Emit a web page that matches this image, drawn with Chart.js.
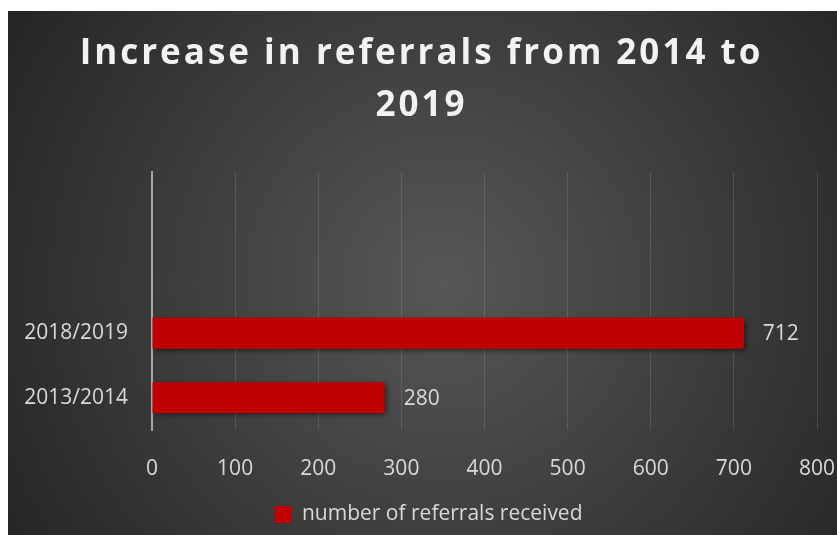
<!DOCTYPE html>
<html><head><meta charset="utf-8">
<script src="https://cdn.jsdelivr.net/npm/chart.js@4.4.0/dist/chart.umd.min.js"></script>
<style>html,body{margin:0;padding:0;background:#fff;overflow:hidden}canvas{display:block}</style>
</head><body>
<canvas id="c" width="837" height="535"></canvas>
<script>
const categories = ['', '', '2018/2019', '2013/2014'];
const referrals = [null, null, 712, 280];
const seriesName = 'number of referrals received';
const titleLines = ['Increase in referrals from 2014 to', '2019'];
const xTickValues = [0, 100, 200, 300, 400, 500, 600, 700, 800];

const FONT = 'Open Sans';
const TXT = '#d9d9d9';

function shiftBox(box, dx, spacing) {
  if (!box || box._shifted) return;
  const orig = box.draw;
  box.draw = function (...a) {
    const c = this.ctx;
    c.save();
    c.translate(dx, 0);
    if (spacing) c.letterSpacing = spacing;
    orig.apply(this, a);
    c.restore();
  };
  box._shifted = true;
}

const bgPlugin = {
  id: 'bg',
  beforeDraw(chart) {
    const ctx = chart.ctx;
    ctx.save();
    ctx.fillStyle = '#ffffff';
    ctx.fillRect(0, 0, chart.width, chart.height);
    const x0 = 8, y0 = 11, x1 = chart.width, y1 = chart.height;
    const cx = (x0 + x1) / 2 + 20, cy = (y0 + y1) / 2 + 10;
    const g = ctx.createRadialGradient(cx, cy, 0, cx, cy, 520);
    g.addColorStop(0, '#575757');
    g.addColorStop(1, '#242424');
    ctx.fillStyle = g;
    ctx.fillRect(x0, y0, x1 - x0, y1 - y0);
    ctx.restore();
    shiftBox(chart.titleBlock, 13, '3px');
    shiftBox(chart.legend, 20, null);
  }
};

const barFx = {
  id: 'barFx',
  beforeDatasetsDraw(chart) {
    const ctx = chart.ctx;
    ctx.save();
    ctx.shadowColor = 'rgba(0,0,0,0.55)';
    ctx.shadowBlur = 5;
    ctx.shadowOffsetX = 2;
    ctx.shadowOffsetY = 2;
  },
  afterDatasetsDraw(chart) {
    const ctx = chart.ctx;
    ctx.restore();
    ctx.save();
    ctx.fillStyle = TXT;
    ctx.font = '21px "' + FONT + '"';
    ctx.textAlign = 'left';
    ctx.textBaseline = 'middle';
    const meta = chart.getDatasetMeta(0);
    meta.data.forEach((el, i) => {
      const v = chart.data.datasets[0].data[i];
      if (v === null || v === undefined) return;
      ctx.fillText(String(v), el.x + 19, el.y + 1);
    });
    ctx.restore();
  }
};

new Chart(document.getElementById('c'), {
  type: 'bar',
  data: {
    labels: categories,
    datasets: [{
      label: seriesName,
      data: referrals,
      backgroundColor: '#c00000',
      borderWidth: 0,
      barPercentage: 0.48,
      categoryPercentage: 1
    }]
  },
  options: {
    indexAxis: 'y',
    responsive: false,
    animation: false,
    devicePixelRatio: 1,
    layout: { padding: { left: 0, right: 20, top: 0, bottom: 0 } },
    plugins: {
      title: {
        display: true,
        text: titleLines,
        color: '#f2f2f2',
        font: { family: FONT, size: 35, weight: 'bold', lineHeight: 1.486 },
        padding: { top: 28, bottom: 40 }
      },
      legend: {
        position: 'bottom',
        labels: {
          color: TXT,
          font: { family: FONT, size: 21 },
          boxWidth: 17,
          boxHeight: 17,
          padding: 12
        }
      },
      tooltip: { enabled: false }
    },
    scales: {
      x: {
        min: 0,
        max: 800,
        afterBuildTicks(s) { s.ticks = xTickValues.map(v => ({ value: v })); },
        afterFit(s) { s.paddingLeft = 0; s.paddingRight = 0; s.height = 62; },
        grid: { color: 'rgba(255,255,255,0.12)', drawTicks: false },
        border: { display: false },
        ticks: { color: TXT, font: { family: FONT, size: 21 }, padding: 26 }
      },
      y: {
        grid: { display: false, drawTicks: false },
        border: { display: true, color: '#a6a6a6', width: 2 },
        ticks: { color: TXT, font: { family: FONT, size: 21 }, padding: 24 },
        afterFit(s) { s.width = 152; }
      }
    }
  },
  plugins: [bgPlugin, barFx]
});
</script>
</body></html>
